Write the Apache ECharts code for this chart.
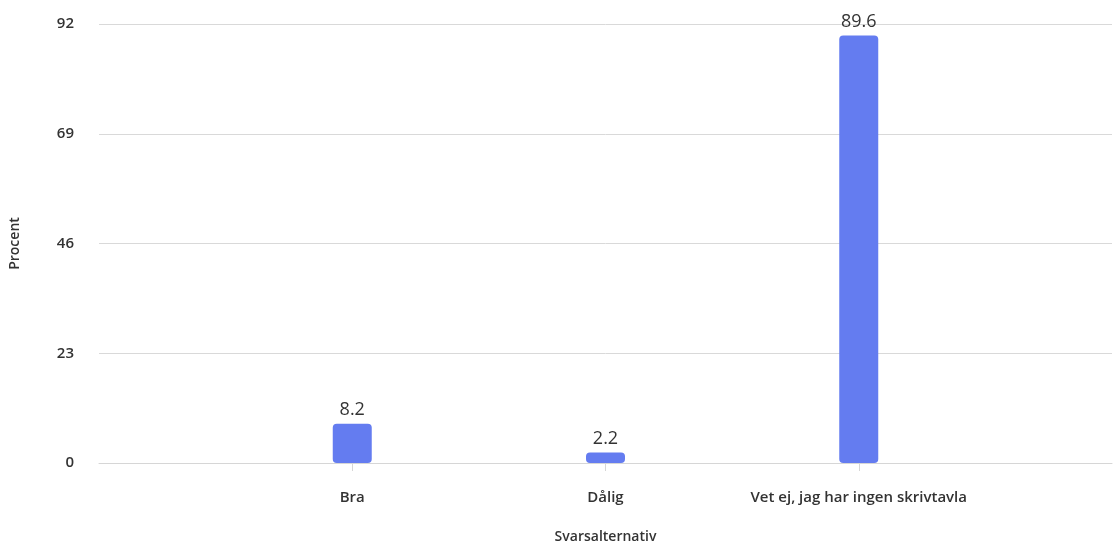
<!DOCTYPE html>
<html><head><meta charset="utf-8">
<script src="https://cdn.jsdelivr.net/npm/echarts@6/dist/echarts.min.js"></script>
<style>html,body{margin:0;padding:0;background:#fff;width:100%;height:100%;overflow:hidden}#c{width:100vw;height:100vh}</style>
</head><body><div id="c"></div>
<script>
const categories = ['Bra', 'Dålig', 'Vet ej, jag har ingen skrivtavla'];
const values = [8.2, 2.2, 89.6];
const yTicks = [0, 23, 46, 69, 92];

const axisCats = [''].concat(categories, ['']);
const seriesData = [null].concat(values, [null]);
const font = '"Open Sans", "Noto Sans", sans-serif';

const el = document.getElementById('c');
const chart = echarts.init(el);
chart.setOption({
  animation: false,
  textStyle: { fontFamily: font },
  grid: { left: 95, right: 3, top: 24, bottom: 71, containLabel: false },
  xAxis: {
    type: 'category',
    data: axisCats,
    boundaryGap: false,
    name: 'Svarsalternativ',
    nameLocation: 'middle',
    nameGap: 67,
    nameTextStyle: { fontSize: 14, fontWeight: 600, color: '#333', fontFamily: font },
    axisLine: { show: true, lineStyle: { color: '#d6d6d6', width: 1 } },
    axisTick: { show: true, length: 8, lineStyle: { color: '#d6d6d6' },
      interval: function (i, v) { return v !== ''; } },
    axisLabel: { margin: 27, fontSize: 15, fontWeight: 600, color: '#333', fontFamily: font,
      interval: 0 },
    splitLine: { show: false }
  },
  yAxis: {
    type: 'value',
    min: yTicks[0],
    max: yTicks[yTicks.length - 1],
    interval: yTicks[1] - yTicks[0],
    name: 'Procent',
    nameLocation: 'middle',
    nameGap: 77,
    nameRotate: 90,
    nameTextStyle: { fontSize: 14, fontWeight: 600, color: '#333', fontFamily: font },
    axisLine: { show: false },
    axisTick: { show: false },
    axisLabel: { margin: 25, fontSize: 15, fontWeight: 600, color: '#333', fontFamily: font },
    splitLine: { lineStyle: { color: '#d9d9d9', width: 1 } }
  },
  series: [{
    type: 'bar',
    data: seriesData,
    barWidth: 39,
    itemStyle: { color: '#647cf0', borderRadius: 4 },
    label: { show: true, position: 'top', distance: 5, fontSize: 18, color: '#333', fontFamily: font }
  }]
});
</script></body></html>
